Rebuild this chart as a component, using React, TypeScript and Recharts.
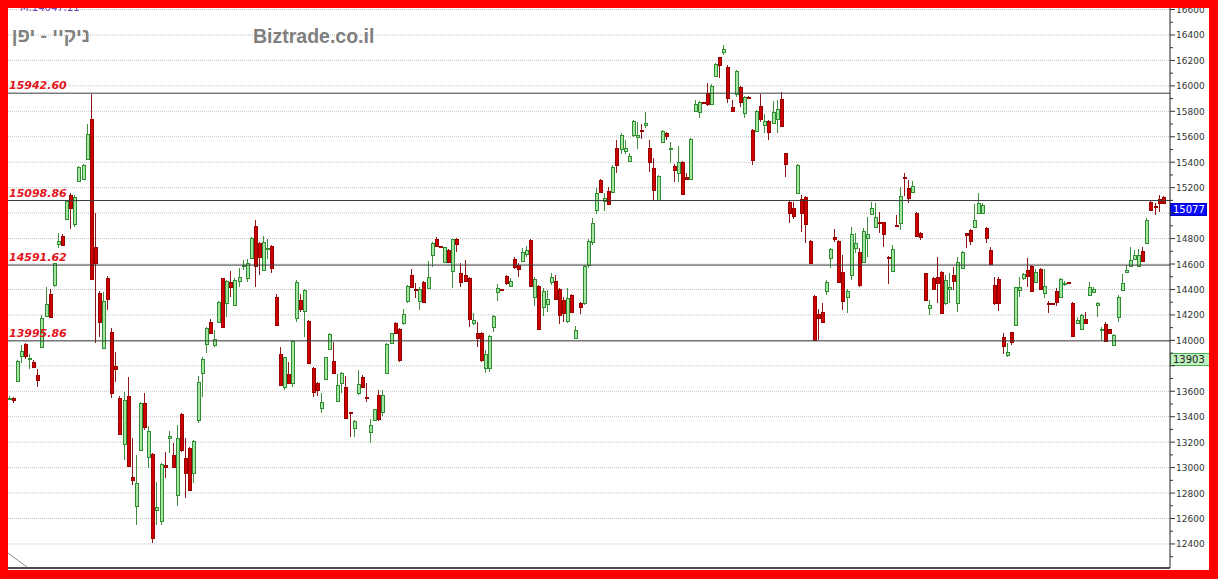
import { ComposedChart, Bar, XAxis, YAxis, CartesianGrid, ReferenceLine } from "recharts";

// daily candles (index 1..282)
const opens = [
  13545, 13545, 13684, 13878, 13974, 13857, 13833, 13731, 13951, 14192,
  14362, 14435, 14755, 14820, 14954, 15145, 14915, 15255, 15266, 15428,
  15737, 14731, 14370, 13938, 14488, 14063, 13802, 13550, 13183, 13563,
  12924, 12699, 13139, 13506, 13081, 13107, 12668, 12584, 13018, 13231,
  13100, 12785, 13419, 13073, 13152, 12961, 13375, 13741, 13972, 14147,
  13964, 14147, 14488, 14291, 14461, 14275, 14469, 14590, 14488, 14645,
  14899, 14768, 14553, 14715, 14744, 14338, 13893, 13631, 13736, 13662,
  14173, 14317, 14233, 14155, 13780, 13668, 13466, 13694, 13932, 13841,
  13524, 13668, 13631, 13435, 13309, 13584, 13715, 13553, 13283, 13375,
  13571, 13440, 13746, 13982, 14139, 14087, 14134, 14312, 14511, 14406,
  14312, 14456, 14409, 14671, 14796, 14739, 14618, 14710, 14548, 14799,
  14527, 14514, 14487, 14134, 14055, 14055, 13780, 13780, 14102, 14383,
  14404, 14508, 14427, 14639, 14590, 14626, 14676, 14789, 14343, 14430,
  14265, 14283, 14456, 14469, 14404, 14317, 14152, 14354, 14021, 14291,
  14291, 14590, 14770, 15024, 15260, 15095, 15174, 15169, 15509, 15504,
  15488, 15409, 15614, 15601, 15656, 15692, 15514, 15352, 15103, 15556,
  15627, 15504, 15373, 15313, 15404, 15286, 15268, 15805, 15792, 15872,
  15946, 15855, 16080, 16224, 16263, 16151, 15831, 15933, 15993, 15784,
  15915, 15653, 15645, 15844, 15692, 15724, 15705, 15737, 15894, 15470,
  15090, 15038, 15155, 15108, 15129, 14781, 14349, 14205, 14226, 14388,
  14645, 14815, 14781, 14535, 14343, 14514, 14723, 14692, 14618, 14802,
  14993, 14888, 14933, 14928, 14658, 14548, 14907, 14925, 15281, 15195,
  15169, 15003, 14846, 14527, 14252, 14488, 14495, 14540, 14291, 14401,
  14514, 14296, 14566, 14841, 14867, 14894, 15004, 14999, 14886, 14710,
  14435, 14480, 14024, 13885, 14064, 14121, 14396, 14488, 14553, 14585,
  14462, 14561, 14370, 14297, 14294, 14391, 14339, 14440, 14455, 14297,
  14134, 14092, 14166, 14357, 14380, 14276, 14082, 14129, 14087, 13964,
  14187, 14396, 14540, 14585, 14637, 14585, 14705, 14768, 15090, 15056,
  15108, 15129,
];

const highs = [
  13563, 13558, 13846, 13964, 13982, 13893, 13846, 13778, 14197, 14417,
  14401, 14611, 14846, 14833, 15103, 15156, 15142, 15370, 15386, 15700,
  15936, 14998, 14391, 14380, 14506, 14095, 13912, 13563, 13597, 13710,
  13231, 13100, 13519, 13584, 13327, 13113, 12890, 13034, 13126, 13291,
  13191, 13335, 13427, 13231, 13165, 13218, 13720, 13872, 14108, 14165,
  14082, 14309, 14493, 14474, 14548, 14488, 14566, 14632, 14637, 14815,
  14946, 14776, 14820, 14794, 14749, 14364, 13951, 13872, 13833, 14003,
  14474, 14364, 14401, 14160, 13793, 13676, 13584, 13872, 14055, 13990,
  13736, 13754, 13720, 13440, 13375, 13767, 13728, 13662, 13380, 13464,
  13610, 13610, 13977, 14061, 14147, 14095, 14244, 14435, 14558, 14448,
  14417, 14469, 14626, 14775, 14809, 14741, 14736, 14715, 14799, 14804,
  14610, 14631, 14495, 14212, 14147, 14069, 13924, 14042, 14199, 14443,
  14406, 14514, 14487, 14658, 14605, 14723, 14741, 14794, 14495, 14435,
  14409, 14396, 14527, 14514, 14409, 14343, 14409, 14364, 14113, 14304,
  14592, 14800, 14965, 15200, 15268, 15155, 15208, 15378, 15574, 15627,
  15574, 15470, 15732, 15719, 15697, 15792, 15574, 15430, 15300, 15653,
  15635, 15561, 15383, 15530, 15409, 15313, 15588, 15889, 15881, 15875,
  16020, 16012, 16182, 16229, 16321, 16164, 15889, 16124, 15999, 15920,
  15917, 15661, 15810, 15933, 15776, 15732, 15881, 15889, 15949, 15475,
  15103, 15090, 15386, 15142, 15134, 14789, 14357, 14244, 14296, 14474,
  14723, 14873, 14789, 14671, 14401, 14894, 14841, 14723, 14880, 14967,
  15090, 15077, 15011, 14933, 14663, 14750, 14985, 15203, 15313, 15260,
  15255, 15011, 14852, 14532, 14317, 14495, 14658, 14548, 14514, 14527,
  14579, 14658, 14705, 14846, 14873, 15072, 15161, 15077, 14894, 14737,
  14496, 14501, 14061, 13977, 14069, 14422, 14496, 14532, 14645, 14593,
  14558, 14566, 14558, 14312, 14296, 14409, 14488, 14470, 14458, 14302,
  14187, 14207, 14226, 14462, 14417, 14304, 14103, 14147, 14092, 14050,
  14357, 14522, 14593, 14737, 14710, 14716, 14731, 14959, 15098, 15077,
  15143, 15137,
];

const lows = [
  13532, 13506, 13681, 13825, 13851, 13778, 13781, 13637, 13946, 14187,
  14181, 14422, 14723, 14744, 14951, 14873, 14894, 15250, 15260, 15423,
  14475, 13977, 14029, 13930, 14239, 13545, 13676, 13257, 13060, 13008,
  12864, 12550, 13134, 13296, 12995, 12406, 12550, 12550, 12916, 13113,
  12995, 12699, 13126, 12759, 12819, 12877, 13348, 13558, 13898, 14050,
  13951, 14142, 14103, 14181, 14343, 14270, 14417, 14553, 14461, 14637,
  14417, 14514, 14548, 14637, 14532, 14113, 13644, 13610, 13657, 13636,
  14147, 14226, 14029, 13820, 13553, 13563, 13427, 13689, 13924, 13736,
  13516, 13584, 13380, 13243, 13238, 13571, 13631, 13518, 13191, 13369,
  13369, 13406, 13741, 13977, 14050, 13833, 14121, 14291, 14417, 14330,
  14239, 14299, 14401, 14579, 14736, 14723, 14610, 14610, 14409, 14697,
  14422, 14461, 14108, 14121, 13951, 13833, 13741, 13754, 14069, 14312,
  14396, 14435, 14417, 14558, 14501, 14618, 14658, 14422, 14270, 14082,
  14192, 14226, 14435, 14317, 14129, 14147, 14134, 14218, 14016, 14207,
  14278, 14570, 14750, 14990, 15163, 15017, 15064, 15163, 15313, 15462,
  15462, 15404, 15601, 15504, 15582, 15666, 15326, 15103, 15098, 15548,
  15574, 15391, 15247, 15247, 15142, 15260, 15260, 15792, 15750, 15865,
  15844, 15849, 16072, 16059, 16242, 15863, 15792, 15915, 15836, 15750,
  15910, 15378, 15640, 15719, 15627, 15574, 15697, 15627, 15679, 15286,
  14925, 14951, 15150, 14854, 14763, 14605, 13995, 14003, 14142, 14357,
  14566, 14776, 14453, 14239, 14213, 14474, 14684, 14422, 14611, 14658,
  14985, 14880, 14841, 14731, 14443, 14540, 14894, 14867, 15134, 15082,
  15161, 14820, 14789, 14312, 14199, 14396, 14296, 14207, 14278, 14291,
  14396, 14226, 14561, 14723, 14750, 14889, 14999, 14993, 14763, 14593,
  14278, 14234, 13893, 13872, 13964, 14116, 14344, 14475, 14422, 14383,
  14449, 14396, 14331, 14218, 14289, 14270, 14331, 14430, 14450, 14030,
  14129, 14087, 14134, 14349, 14370, 14187, 14003, 13990, 14056, 13959,
  14147, 14391, 14527, 14579, 14632, 14579, 14621, 14763, 15019, 14985,
  15012, 15072,
];

const closes = [
  13550, 13532, 13838, 13919, 13878, 13862, 13788, 13689, 14176, 14283,
  14187, 14606, 14781, 14747, 15095, 15038, 15129, 15360, 15381, 15619,
  14480, 14606, 14142, 14310, 14325, 13584, 13775, 13265, 13532, 13013,
  12903, 12877, 13511, 13317, 13288, 12445, 12694, 13029, 13008, 13249,
  13008, 13231, 13139, 12961, 12825, 13210, 13671, 13851, 14095, 14055,
  14008, 14304, 14108, 14469, 14417, 14474, 14501, 14595, 14611, 14802,
  14584, 14653, 14776, 14728, 14566, 14121, 13649, 13867, 13662, 13998,
  14461, 14244, 14396, 13825, 13597, 13610, 13518, 13867, 14048, 13746,
  13649, 13746, 13388, 13430, 13367, 13655, 13636, 13547, 13333, 13458,
  13380, 13571, 13972, 14055, 14061, 13846, 14207, 14427, 14422, 14396,
  14401, 14304, 14501, 14762, 14741, 14731, 14731, 14618, 14794, 14757,
  14456, 14469, 14165, 14160, 14016, 13846, 13893, 14034, 14192, 14409,
  14398, 14448, 14469, 14579, 14558, 14692, 14710, 14427, 14482, 14087,
  14390, 14322, 14495, 14322, 14199, 14218, 14335, 14226, 14082, 14265,
  14584, 14780, 14920, 15161, 15169, 15121, 15069, 15365, 15378, 15614,
  15514, 15451, 15724, 15614, 15645, 15705, 15399, 15182, 15292, 15645,
  15606, 15514, 15339, 15399, 15150, 15268, 15580, 15857, 15870, 15868,
  15855, 16001, 16172, 16164, 16289, 15902, 15802, 16117, 15876, 15915,
  15912, 15417, 15802, 15740, 15727, 15640, 15792, 15815, 15684, 15386,
  14998, 14977, 15378, 15003, 14914, 14611, 14003, 14173, 14147, 14461,
  14715, 14794, 14461, 14309, 14391, 14836, 14763, 14435, 14862, 14836,
  15043, 14967, 14920, 14836, 14653, 14715, 14901, 15134, 15276, 15116,
  15216, 14823, 14815, 14317, 14278, 14404, 14453, 14213, 14474, 14422,
  14467, 14618, 14697, 14828, 14784, 14946, 15077, 15064, 14802, 14600,
  14297, 14297, 13956, 13912, 13990, 14417, 14417, 14522, 14506, 14391,
  14540, 14404, 14428, 14286, 14289, 14304, 14483, 14450, 14452, 14035,
  14160, 14200, 14140, 14422, 14407, 14297, 14092, 13998, 14061, 14043,
  14344, 14454, 14553, 14632, 14671, 14671, 14627, 14946, 15025, 15046,
  15082, 15077,
];

// month separators (position on the candle index axis)
const monthTicks = [6.6, 27.9, 47.8, 69.9, 92.0, 111.7, 134.8, 154.9, 175.8, 195.9, 214.9, 234.6, 256.9, 277.8];

const yTicks = [
  12300, 12400, 12500, 12600, 12700, 12800, 12900, 13000, 13100, 13200, 13300,
  13400, 13500, 13600, 13700, 13800, 13900, 14000, 14100, 14200, 14300, 14400,
  14500, 14600, 14700, 14800, 14900, 15000, 15100, 15200, 15300, 15400, 15500,
  15600, 15700, 15800, 15900, 16000, 16100, 16200, 16300, 16400, 16500, 16600,
];
const yLabels = [
  12400, 12600, 12800, 13000, 13200, 13400, 13600, 13800, 14000, 14200, 14400,
  14600, 14800, 15000, 15200, 15400, 15600, 15800, 16000, 16200, 16400, 16600,
];

const levels = [15942.6, 15098.86, 14591.62, 13995.86];
const lastPrice = 15077;
const markPrice = 13903;
const boxes = [lastPrice, markPrice];

const data = opens.map((o, k) => ({
  idx: k + 1,
  open: o,
  high: highs[k],
  low: lows[k],
  close: closes[k],
  range: [lows[k], highs[k]],
}));

function Candle(props: any) {
  const { x, y, width, height, payload } = props;
  if (!payload || x == null || y == null) return null;
  const { open, close, high, low } = payload;
  const top = Math.min(y, y + height);
  const h = Math.abs(height);
  const span = high - low || 1;
  const py = (v: number) => top + ((high - v) / span) * h;
  const cx = Math.round(x + width / 2);
  const up = close >= open;
  const bTop = Math.round(py(Math.max(open, close))) + 0.5;
  let bBot = Math.round(py(Math.min(open, close))) + 0.5;
  if (bBot - bTop < 1) bBot = bTop + 1;
  return (
    <g shapeRendering="crispEdges">
      <line
        x1={cx - 0.5}
        x2={cx - 0.5}
        y1={Math.round(top)}
        y2={Math.round(top + h)}
        stroke={up ? "#3f8f3f" : "#8e1717"}
      />
      <rect
        x={cx - 1.5}
        y={bTop}
        width={3}
        height={bBot - bTop}
        fill={up ? "#a3e6a3" : "#cc0000"}
        stroke={up ? "#2f8c2f" : "#990000"}
      />
    </g>
  );
}

// labels hidden under the price boxes are not drawn
function YTick(props: any) {
  const { x, y, payload } = props;
  const v = payload.value;
  const major = yLabels.includes(v);
  const covered = boxes.some((b) => v < b && b - v < 110);
  return (
    <g>
      <line x1={x} x2={x + (major ? 5 : 3)} y1={y} y2={y} stroke="#333" />
      {major && !covered && (
        <text x={x + 6} y={y + 3.5} fontSize={9} fontFamily="DejaVu Sans" fill="#333">
          {v}
        </text>
      )}
    </g>
  );
}

function levelLabel(v: number) {
  return (p: any) => (
    <text
      x={p.viewBox.x + 1}
      y={p.viewBox.y - 4}
      fontSize={11}
      fontFamily="DejaVu Sans"
      fontStyle="italic"
      fontWeight="bold"
      fill="#e3141c"
    >
      {v.toFixed(2)}
    </text>
  );
}

function priceBox(v: number, fill: string, stroke: string, color: string, w: number) {
  return (p: any) => {
    const bx = p.viewBox.x + p.viewBox.width;
    const by = Math.round(p.viewBox.y) + 0.5;
    return (
      <g>
        <rect x={bx + 0.5} y={by} width={w} height={12} fill={fill} stroke={stroke} />
        <text x={bx + 3} y={by + 9.5} fontSize={10} fontFamily="DejaVu Sans" fill={color}>
          {v}
        </text>
      </g>
    );
  };
}

export default function App() {
  return (
    <div style={{ position: "absolute", left: 0, top: 0, width: 1218, height: 579, background: "#ff0000" }}>
      <div
        style={{
          position: "absolute",
          left: 8,
          top: 8,
          width: 1201,
          height: 562,
          background: "#ffffff",
          overflow: "hidden",
        }}
      >
        <ComposedChart width={1201} height={562} data={data} margin={{ top: 0, right: 0, bottom: 0, left: 0 }}>
          <CartesianGrid
            stroke="#c2c2c2"
            strokeDasharray="1 1"
            horizontalValues={yLabels}
            verticalValues={monthTicks}
          />
          <XAxis
            type="number"
            dataKey="idx"
            domain={[0.6, 283.5]}
            allowDataOverflow
            ticks={monthTicks}
            tick={false}
            tickLine={false}
            height={2}
            axisLine={{ stroke: "#111", strokeWidth: 1.5 }}
          />
          <YAxis
            orientation="right"
            type="number"
            domain={[12211, 16612]}
            allowDataOverflow
            ticks={yTicks}
            interval={0}
            tick={<YTick />}
            tickLine={false}
            tickSize={0}
            tickMargin={0}
            width={39}
            axisLine={{ stroke: "#222" }}
          />
          {levels.map((v) => (
            <ReferenceLine key={v} y={v} stroke="#3a3a3a" strokeWidth={1} label={levelLabel(v)} />
          ))}
          <Bar dataKey="range" barSize={4} isAnimationActive={false} shape={(p: any) => <Candle {...p} />} />
          <ReferenceLine y={lastPrice} stroke="none" label={priceBox(lastPrice, "#0a0aff", "#0000c8", "#ffffff", 36)} />
          <ReferenceLine y={markPrice} stroke="none" label={priceBox(markPrice, "#bff0bf", "#4caf50", "#222222", 40)} />
        </ComposedChart>
        <svg width={1201} height={562} style={{ position: "absolute", left: 0, top: 0, pointerEvents: "none" }}>
          <text x={12} y={3} fontSize={10} fontFamily="DejaVu Sans" fill="#6a3fb5">
            M.14047.11
          </text>
          <text x={82} y={34} textAnchor="end" fontSize={19} fontWeight="bold" fontFamily="Liberation Sans" fill="#808080">
            ניקיי - יפן
          </text>
          <text x={245} y={35} fontSize={19.5} fontWeight="bold" fontFamily="Liberation Sans" fill="#7f7f7f">
            Biztrade.co.il
          </text>
          <line x1={0} y1={545} x2={19} y2={559} stroke="#8a8a8a" />
        </svg>
      </div>
    </div>
  );
}
